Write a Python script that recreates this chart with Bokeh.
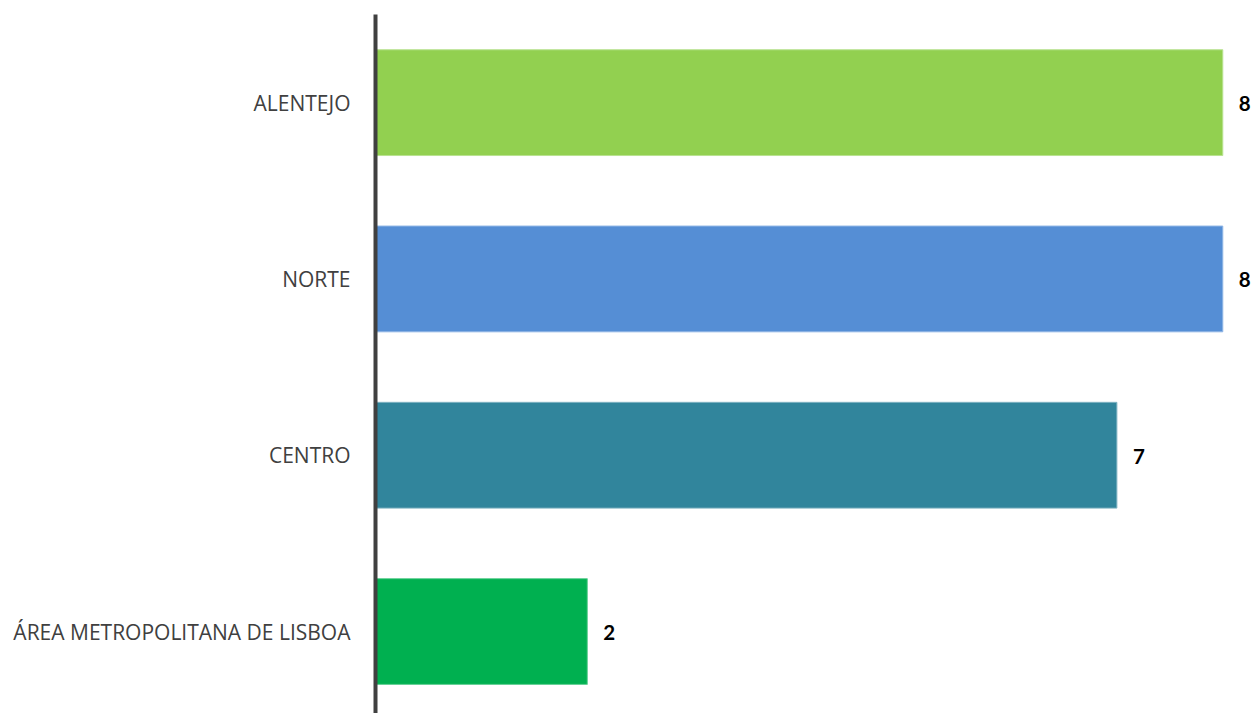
from bokeh.plotting import figure
from bokeh.models import ColumnDataSource, LabelSet, Range1d, FixedTicker
from bokeh.core.properties import value
from bokeh.embed import file_html
from bokeh.resources import INLINE

categories = ["ÁREA METROPOLITANA DE LISBOA", "CENTRO", "NORTE", "ALENTEJO"]
values = [2, 7, 8, 8]
colors = ["#00B050", "#31859C", "#558ED5", "#92D050"]
borders = ["#66D096", "#7FB3C2", "#8FB5E5", "#B8E290"]
positions = [0, 1, 2, 3]

src = ColumnDataSource(dict(y=positions, v=values, c=colors, b=borders,
                            lab=[str(v) for v in values]))

p = figure(width=1253, height=713, output_backend="svg", toolbar_location=None,
           x_range=Range1d(0, 8.29), y_range=Range1d(-0.465, 3.5),
           min_border_left=375, min_border_right=0, min_border_top=14, min_border_bottom=0)

p.hbar(y="y", right="v", left=0, height=0.6, fill_color="c", line_color="b",
       line_width=1, source=src)

labels = LabelSet(x="v", y="y", text="lab", source=src, x_offset=16, y_offset=-1,
                  text_baseline="middle", text_font=value("Lato"),
                  text_font_style="bold", text_font_size="20.5px", text_color="#000000")
p.add_layout(labels)

p.xaxis.visible = False
p.grid.visible = False
p.outline_line_color = None
p.background_fill_color = "white"
p.border_fill_color = "white"

ya = p.yaxis[0]
ya.ticker = FixedTicker(ticks=positions)
ya.major_label_overrides = {pos: cat for pos, cat in zip(positions, categories)}
ya.major_tick_line_color = None
ya.minor_tick_line_color = None
ya.axis_line_color = "#404040"
ya.axis_line_width = 4
ya.major_label_standoff = 19
ya.major_label_text_font = "Open Sans"
ya.major_label_text_font_size = "21px"
ya.major_label_text_color = "#404040"

open("out.html", "w").write(file_html(p, INLINE))
